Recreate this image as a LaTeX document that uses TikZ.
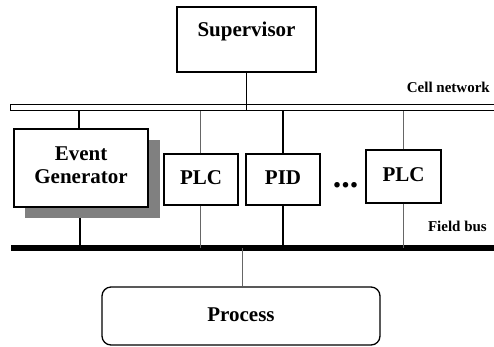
\documentclass[tikz,border=0pt]{standalone}
\usepackage{fontspec}
\setmainfont{Liberation Serif}
\begin{document}
\begin{tikzpicture}[x=1pt,y=-1pt,
  box/.style={draw=black,line width=1.3pt,fill=white,inner sep=0pt},
  big/.style={font=\fontsize{21}{23}\selectfont\bfseries,align=center,inner sep=0pt},
  small/.style={font=\fontsize{15}{17}\selectfont\bfseries,inner sep=0pt},
  thinline/.style={draw=black!60,line width=0.9pt},
  thickline/.style={draw=black,line width=1.4pt}]
\useasboundingbox (0,0) rectangle (494,346);
% Supervisor
\node[box,minimum width=139pt,minimum height=65pt] (sup) at (246.5,39.5) {};
\node[big] (suptext) at (246.5,31) {Supervisor};
% Cell network bar
\node[draw=black,line width=1.3pt,fill=white,minimum width=490pt,minimum height=6pt,inner sep=0pt,anchor=west] (cell) at (10,107.5) {};
\node[small,anchor=base east] (celllbl) at (490,92) {Cell network};
% Field bus
\coordinate (fbL) at (11,247.5);
\coordinate (fbR) at (500,247.5);
\draw[line width=6pt] (fbL) -- (fbR);
\node[small,anchor=base east] (fieldlbl) at (487,231) {Field bus};
% Event generator with shadow
\node[fill=black!50,minimum width=135pt,minimum height=78pt,inner sep=0pt] (egshadow) at (92.5,179) {};
\node[box,minimum width=134pt,minimum height=78pt] (eg) at (81,168) {};
\node[big] (egtext) at (81,165) {Event\\Generator};
% PLC, PID, PLC
\node[box,minimum width=74pt,minimum height=51pt] (plc1) at (201,179.5) {};
\node[big] (plc1t) at (201,177.5) {PLC};
\node[box,minimum width=74pt,minimum height=51pt] (pid) at (283,179.5) {};
\node[big] (pidt) at (283,177.5) {PID};
\node[box,minimum width=75pt,minimum height=53pt] (plc2) at (403.5,176.5) {};
\node[big] (plc2t) at (403.5,174.5) {PLC};
\node[font=\fontsize{34}{34}\selectfont\bfseries,inner sep=0pt,anchor=base] (dots) at (345.5,187.5) {...};
% Process
\node[draw=black,line width=1.3pt,rounded corners=9pt,minimum width=278pt,minimum height=58pt,inner sep=0pt] (proc) at (241,316) {};
\node[big] (proct) at (241,315) {Process};
% Connectors
\draw[thickline] (sup.south) -- (sup.south |- cell.south);
\draw[thickline] (eg.north -| 79,0) -- (79,0 |- cell.south);
\draw[thickline] (80,0 |- egshadow.south) -- (80,0 |- fbL);
\draw[thinline] (plc1.north -| 200,0) -- (200,0 |- cell.south);
\draw[thinline] (plc1.south -| 200,0) -- (200,0 |- fbL);
\draw[thickline] (pid.north) -- (pid.north |- cell.south);
\draw[thickline] (pid.south) -- (pid.south |- fbL);
\draw[thinline] (plc2.north) -- (plc2.north |- cell.south);
\draw[thinline] (plc2.south) -- (plc2.south |- fbL);
\draw[thinline] (proc.north -| 242,0) -- (242,0 |- fbL);
\end{tikzpicture}
\end{document}
